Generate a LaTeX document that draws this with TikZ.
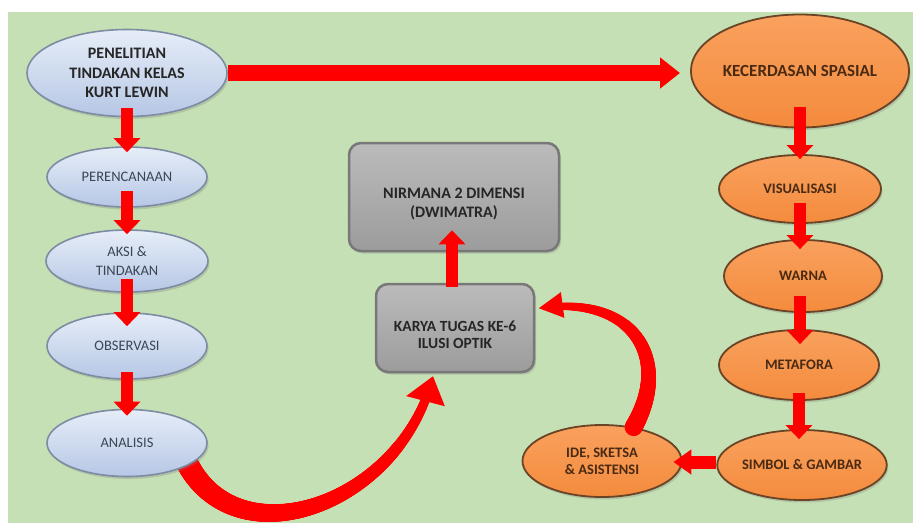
\documentclass[tikz,border=0pt]{standalone}
\usepackage{fontspec}
\setmainfont{Carlito}
\usetikzlibrary{shapes.geometric,arrows.meta,shadows,decorations.markings,calc}
\definecolor{bggreen}{HTML}{C5E0B4}
\definecolor{bluetop}{HTML}{E6EDF8}
\definecolor{bluebot}{HTML}{B6C7E5}
\definecolor{bluedge}{HTML}{7D8CA2}
\definecolor{bluetext}{HTML}{3A4556}
\definecolor{orgtop}{HTML}{F9A15E}
\definecolor{orgbot}{HTML}{F48B3D}
\definecolor{orgedge}{HTML}{6B4325}
\definecolor{orgtext}{HTML}{4A2A12}
\definecolor{graytop}{HTML}{BBBBBB}
\definecolor{graybot}{HTML}{9C9C9C}
\definecolor{grayedge}{HTML}{787878}
\definecolor{graytext}{HTML}{262626}
\definecolor{arrred}{HTML}{FF0000}
\pgfdeclarelayer{bg}
\pgfdeclarelayer{back}
\pgfsetlayers{bg,back,main}
\tikzset{
  blueell/.style={ellipse, inner sep=0pt, draw=bluedge, line width=1.6pt,
    top color=bluetop, bottom color=bluebot,
    drop shadow={opacity=0.3,shadow xshift=1.5pt,shadow yshift=-2.5pt},
    text=bluetext, align=center, font=\fontsize{14.5}{19}\selectfont},
  orgell/.style={ellipse, inner sep=0pt, draw=orgedge, line width=1.8pt,
    top color=orgtop, bottom color=orgbot,
    drop shadow={opacity=0.3,shadow xshift=1.5pt,shadow yshift=-2.5pt},
    text=orgtext, align=center, font=\bfseries\fontsize{14.5}{17}\selectfont},
  graybox/.style={rectangle, rounded corners=12pt, inner sep=0pt, draw=grayedge, line width=2.5pt,
    top color=graytop, bottom color=graybot,
    drop shadow={opacity=0.3,shadow xshift=2pt,shadow yshift=-2.5pt},
    text=graytext, align=center},
  redarrow/.style={draw=arrred, line width=12pt, -{Triangle[width=26pt,length=14pt]}},
  taperbody/.style n args={2}{postaction={decorate,decoration={markings,
    mark=between positions 0 and 0.97 step 1pt with {%
      \pgfmathsetmacro\myrad{#1-(#1-#2)*\pgfkeysvalueof{/pgf/decoration/mark info/distance from start}/\pgfdecoratedpathlength}%
      \fill[arrred] (0pt,0pt) circle (\myrad pt);}}}},
  taperhead/.style n args={3}{postaction={decorate,decoration={markings,
    mark=at position 0.997 with {\fill[arrred] (2pt,0pt) -- (-#1,#2) -- (-#1,-#3) -- cycle;}}}}
}
\begin{document}
\begin{tikzpicture}[x=1pt,y=-1pt]
\useasboundingbox (0,0) rectangle (913,523);
\begin{pgfonlayer}{bg}
  \fill[bggreen] (8,12) rectangle (913,523);
\end{pgfonlayer}

% left column
\node[blueell, minimum width=200pt, minimum height=87pt, text=graytext,
      font=\bfseries\fontsize{16}{19.5}\selectfont] (pen) at (127,73)
      {PENELITIAN\\TINDAKAN KELAS\\KURT LEWIN};
\node[blueell, minimum width=160pt, minimum height=60pt] (per) at (127,177) {PERENCANAAN};
\node[blueell, minimum width=162pt, minimum height=62pt] (aksi) at (127,261) {AKSI \&\\TINDAKAN};
\node[blueell, minimum width=160pt, minimum height=66pt] (obs) at (127,346) {OBSERVASI};
\node[blueell, minimum width=160pt, minimum height=67pt] (ana) at (127,443) {ANALISIS};

% right column
\node[orgell, minimum width=202pt, minimum height=113pt,
      font=\bfseries\fontsize{17}{20}\selectfont] (kec) at (800,71) {KECERDASAN SPASIAL};
\node[orgell, minimum width=162pt, minimum height=68pt] (vis) at (800,189) {VISUALISASI};
\node[orgell, minimum width=158pt, minimum height=72pt] (warna) at (803,276) {WARNA};
\node[orgell, minimum width=160pt, minimum height=70pt] (meta) at (799,365) {METAFORA};
\node[orgell, minimum width=159pt, minimum height=70pt] (simbol) at (802,465) {SIMBOL \& GAMBAR};
\node[orgell, minimum width=159pt, minimum height=72pt] (ide) at (602,461) {IDE, SKETSA\\\& ASISTENSI};

% centre boxes
\node[graybox, minimum width=210pt, minimum height=108pt,
      font=\bfseries\fontsize{16}{19}\selectfont] (nir) at (454,197)
      {\rule{0pt}{24pt}NIRMANA 2 DIMENSI\\(DWIMATRA)};
\node[graybox, minimum width=158pt, minimum height=88pt,
      font=\bfseries\fontsize{15.5}{17}\selectfont] (karya) at (455,328)
      {\rule{0pt}{25pt}KARYA TUGAS KE-6\\ILUSI OPTIK};

% straight arrows
\draw[redarrow, line width=16pt, -{Triangle[width=30pt,length=20pt]}, shorten >=10pt] (pen.east) -- (pen.east -| kec.west);
\draw[redarrow, shorten <=-9pt, shorten >=-6pt] (pen.south) -- (pen.south |- per.north);
\draw[redarrow, shorten <=-17pt, shorten >=-5pt] (per.south) -- (per.south |- aksi.north);
\draw[redarrow, shorten <=-14pt, shorten >=-14pt] (aksi.south) -- (aksi.south |- obs.north);
\draw[redarrow, shorten <=-8pt, shorten >=-7pt] (obs.south) -- (obs.south |- ana.north);
\draw[redarrow, shorten <=-21pt, shorten >=-5pt] (kec.south) -- (kec.south |- vis.north);
\draw[redarrow, shorten <=-21pt, shorten >=-10pt] (vis.south) -- (vis.south |- warna.north);
\draw[redarrow, shorten <=-17pt, shorten >=-15pt] ($(warna.south)+(-3,0)$) -- ($(warna.south |- meta.north)+(-3,0)$);
\draw[redarrow, shorten <=-8pt, shorten >=-10pt] (meta.south) -- (meta.south |- simbol.north);
\draw[redarrow, line width=13pt, -{Triangle[width=24pt,length=18pt]}, shorten >=-9pt] ($(simbol.west)+(0,-3)$) -- ($(simbol.west -| ide.east)+(0,-3)$);
\draw[redarrow, shorten <=-4pt, shorten >=-22pt] ($(karya.north)+(-3,0)$) -- ($(karya.north |- nir.south)+(-3,0)$);

% curved arrows
\begin{pgfonlayer}{back}
\path[taperbody={11}{4}, taperhead={24pt}{21pt}{19pt}] (ana.-20) .. controls (240,560) and (400,505) .. ($(karya.south west)+(58,4)$);
\end{pgfonlayer}
\path[taperbody={9}{3}, taperhead={22pt}{13pt}{13pt}] (ide.47) .. controls (672,360) and (635,295) .. ($(karya.east)+(5,-20)$);
\end{tikzpicture}
\end{document}
